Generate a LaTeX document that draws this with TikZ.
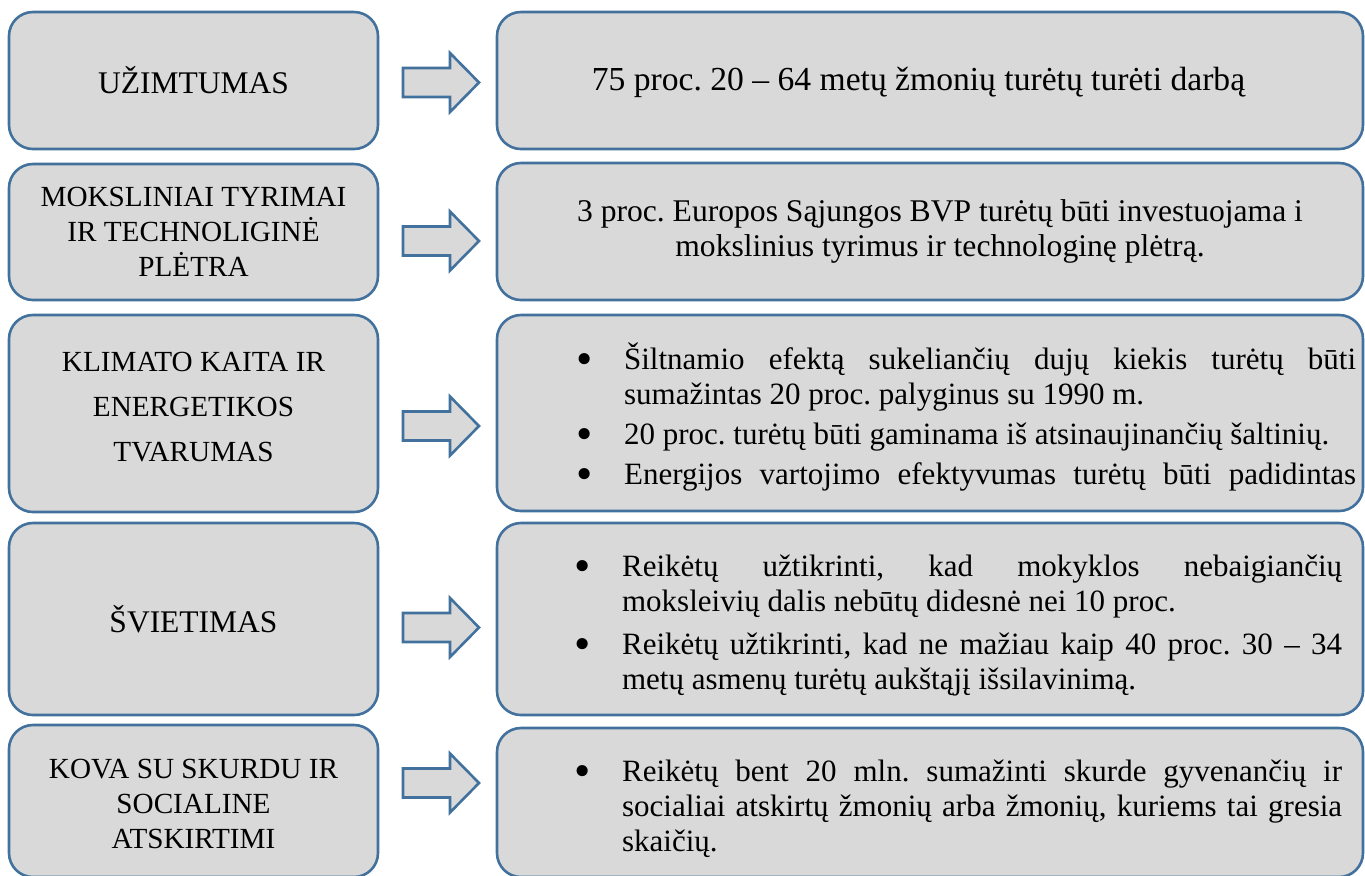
\documentclass[tikz,border=0pt]{standalone}
\usepackage{fontspec}
\setmainfont{Liberation Serif}
\usetikzlibrary{calc}
\definecolor{edgeblue}{HTML}{41719C}
\definecolor{boxgray}{HTML}{D9D9D9}
\def\blockarrow(#1){\draw[line width=1.3pt, draw=edgeblue, fill=boxgray] ($(#1)+(-38,-14.5)$) -- ++(47,0) -- ++(0,-15) -- ++(29,29.5) -- ++(-29,29.5) -- ++(0,-15) -- ++(-47,0) -- cycle;}
\newcommand{\bul}[1][0pt]{\par\vspace{#1}\leftskip=24pt\rightskip=0pt\spaceskip=0pt\xspaceskip=0pt\noindent\llap{\makebox[24pt][l]{\smash{\raisebox{-2.2pt}{\scalebox{1.5}{\textbullet}}}}}\ignorespaces}

\begin{document}
\frenchspacing
\begin{tikzpicture}[x=0.5pt,y=-0.5pt,
	box/.style={rectangle, draw=edgeblue, fill=boxgray, line width=1.3pt, rounded corners=12pt, inner sep=0pt},
	lbox/.style={box, minimum width=184.5pt},
	rbox/.style={box, minimum width=433pt},
	txt/.style={font=\fontsize{15.75}{17.5}\selectfont, align=center, inner sep=0pt},
	smalltxt/.style={txt, font=\fontsize{14.6}{17.5}\selectfont},
	bullets/.style={font=\fontsize{15.5}{17.5}\selectfont, align=justify, inner sep=0pt, anchor=west,
		execute at begin node={\hyphenpenalty=10000\exhyphenpenalty=10000\tolerance=9999}}]
		%%%%% START %%%%%
		\useasboundingbox (0,0) rectangle (1365,875);
		
		% left column
		\node[lbox, minimum height=68.5pt] (l1) at (193.5,80.5) {};
		\node[lbox, minimum height=68pt] (l2) at (193.5,232) {};
		\node[lbox, minimum height=98.5pt] (l3) at (193.5,413.5) {};
		\node[lbox, minimum height=96pt] (l4) at (193.5,619) {};
		\node[lbox, minimum height=76pt] (l5) at (193.5,801) {};
		
		\node[txt] (l1t) at (l1) {UŽIMTUMAS};
		\node[smalltxt] (l2t) at (l2) {MOKSLINIAI TYRIMAI\\IR TECHNOLIGINĖ\\PLĖTRA};
		\node[smalltxt, font=\fontsize{14.6}{22.5}\selectfont] (l3t) at ($(l3)+(0,-6)$) {KLIMATO KAITA IR\\ENERGETIKOS\\TVARUMAS};
		\node[txt] (l4t) at (l4) {ŠVIETIMAS};
		\node[smalltxt] (l5t) at ($(l5)+(0,3)$) {KOVA SU SKURDU IR\\SOCIALINE\\ATSKIRTIMI};
		
		% right column
		\node[rbox, minimum height=68.5pt] (r1) at (930,80.5) {};
		\node[rbox, minimum height=68.5pt] (r2) at (930,231.5) {};
		\node[rbox, minimum height=98pt] (r3) at (930,413) {};
		\node[rbox, minimum height=96pt] (r4) at (930,619) {};
		\node[rbox, minimum height=74.5pt] (r5) at (930,802.5) {};
		
		\node[txt, font=\fontsize{16.8}{17.5}\selectfont] (r1t) at ($(r1)+(-11.5,2)$) {75 proc. 20 – 64 metų žmonių turėtų turėti darbą};
		\node[txt, font=\fontsize{15.8}{17.5}\selectfont] (r2t) at ($(r2)+(10,0)$) {3 proc. Europos Sąjungos BVP turėtų būti investuojama i\\mokslinius tyrimus ir technologinę plėtrą.};
		\node[bullets, text width=390pt] (r3t) at ($(r3.west)+(80,0)$) {%
			\bul Šiltnamio efektą sukeliančių dujų kiekis turėtų būti\linebreak sumažintas 20 proc. palyginus su 1990 m.
			\bul[2.5pt] 20 proc. turėtų būti gaminama iš atsinaujinančių šaltinių.
			\bul[2.5pt]\parfillskip=0pt Energijos vartojimo efektyvumas turėtų būti padidintas\par};
		\node[bullets, text width=384pt] (r4t) at ($(r4.west)+(78,0)$) {%
			\bul Reikėtų užtikrinti, kad mokyklos nebaigiančių\linebreak moksleivių dalis nebūtų didesnė nei 10 proc.
			\bul[4pt] Reikėtų užtikrinti, kad ne mažiau kaip 40 proc. 30 – 34\linebreak metų asmenų turėtų aukštąjį išsilavinimą.\par};
		\node[bullets, text width=384pt] (r5t) at ($(r5.west)+(78,0)$) {%
			\bul Reikėtų bent 20 mln. sumažinti skurde gyvenančių ir\linebreak socialiai atskirtų žmonių arba žmonių, kuriems tai gresia\linebreak skaičių.\par};
		
		% arrows
		\coordinate (a1) at (441,82.5);
		\coordinate (a2) at (441,241);
		\coordinate (a3) at (441,426);
		\coordinate (a4) at (441,627.5);
		\coordinate (a5) at (441,783);
		\blockarrow(a1)
		\blockarrow(a2)
		\blockarrow(a3)
		\blockarrow(a4)
		\blockarrow(a5)
		%%%%% END %%%%%
	\end{tikzpicture}
\end{document}
